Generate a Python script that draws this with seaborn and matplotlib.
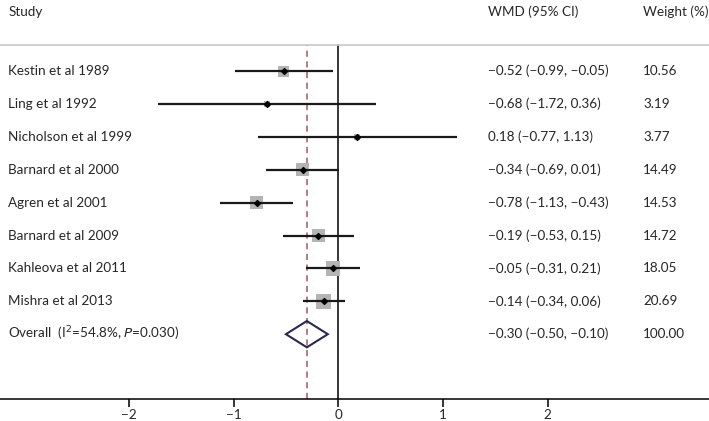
import numpy as np
import pandas as pd
import matplotlib
matplotlib.use("Agg")
import matplotlib.pyplot as plt
import seaborn as sns
from matplotlib.patches import Polygon

# Study-level data
studies = ["Kestin et al 1989", "Ling et al 1992", "Nicholson et al 1999",
           "Barnard et al 2000", "Agren et al 2001", "Barnard et al 2009",
           "Kahleova et al 2011", "Mishra et al 2013"]
wmd = [-0.52, -0.68, 0.18, -0.34, -0.78, -0.19, -0.05, -0.14]
lower = [-0.99, -1.72, -0.77, -0.69, -1.13, -0.53, -0.31, -0.34]
upper = [-0.05, 0.36, 1.13, 0.01, -0.43, 0.15, 0.21, 0.06]
weight = [10.56, 3.19, 3.77, 14.49, 14.53, 14.72, 18.05, 20.69]

overall_label = "Overall  (I$^{2}$=54.8%, $\\it{P}$=0.030)"
overall = [-0.30, -0.50, -0.10]
xticks = [-2, -1, 0, 1, 2]

df = pd.DataFrame({"study": studies, "wmd": wmd, "lo": lower, "hi": upper, "w": weight})
df["row"] = np.arange(len(df))
# square side grows with sqrt(weight)
df["sq"] = (0.72 * 3.4 * np.sqrt(df["w"])) ** 2

sns.set_style("white")
plt.rcParams["font.family"] = ["Lato", "DejaVu Sans"]

fig = plt.figure(figsize=(7.09, 4.21), dpi=100)
ax = fig.add_axes([0, 0.0523, 1, 0.9477])
ax.set_xlim(-3.23, 3.54)
ax.set_ylim(9.97, -2.16)

n = len(df)
ov_row = n
top_frac = (9.97 + 0.79) / (9.97 + 2.16)

# reference lines
ax.axvline(0, ymin=0, ymax=top_frac, color="black", lw=1.1, zorder=1)
ax.axvline(overall[0], ymin=0, ymax=top_frac, color="#9b5a62",
           lw=1.1, ls=(0, (4, 3)), zorder=1)
ax.axhline(-0.79, color="#c8c8c8", lw=1.2)

# squares, CIs and point estimates
sns.scatterplot(data=df, x="wmd", y="row", marker="s", s=df["sq"], color="#b4b4b4",
                edgecolor="none", linewidth=0, ax=ax, zorder=2, legend=False)
ax.hlines(df["row"], df["lo"], df["hi"], color="#1a1a1a", lw=1.6, zorder=3)
ax.scatter(df["wmd"], df["row"], marker="D", s=9, color="black", zorder=4)

# overall diamond
est, lo, hi = overall
h = 0.40
ax.add_patch(Polygon([[lo, ov_row], [est, ov_row - h], [hi, ov_row], [est, ov_row + h]],
                     closed=True, fill=False, edgecolor="#2a2a4e", lw=1.5, zorder=3))

# text columns
fs = 9.7
x_study, x_wmd, x_wt = -3.15, 1.43, 2.91
ax.text(x_study, -1.79, "Study", fontsize=fs, va="center")
ax.text(x_wmd, -1.79, "WMD (95% CI)", fontsize=fs, va="center")
ax.text(x_wt, -1.79, "Weight (%)", fontsize=fs, va="center")

def fmt(v):
    return f"{v:.2f}".replace("-", "\u2212")

for i, r in df.iterrows():
    ax.text(x_study, r["row"], r["study"], fontsize=fs, va="center")
    ax.text(x_wmd, r["row"], f"{fmt(r['wmd'])} ({fmt(r['lo'])}, {fmt(r['hi'])})",
            fontsize=fs, va="center")
    ax.text(x_wt, r["row"], f"{r['w']:.2f}", fontsize=fs, va="center")

ax.text(x_study, ov_row, overall_label, fontsize=fs, va="center")
ax.text(x_wmd, ov_row, f"{fmt(est)} ({fmt(lo)}, {fmt(hi)})", fontsize=fs, va="center")
ax.text(x_wt, ov_row, "100.00", fontsize=fs, va="center")

# axes styling
for s in ["top", "left", "right"]:
    ax.spines[s].set_visible(False)
ax.spines["bottom"].set_color("black")
ax.spines["bottom"].set_linewidth(1.1)
ax.set_yticks([])
ax.set_xticks(xticks)
ax.set_xticklabels([str(t).replace("-", "\u2212") for t in xticks], fontsize=fs)
ax.tick_params(axis="x", bottom=True, direction="out", length=6, width=1.1,
               color="black", pad=1)
ax.set_xlabel("")
ax.set_ylabel("")

fig.savefig("out.png", dpi=100)
